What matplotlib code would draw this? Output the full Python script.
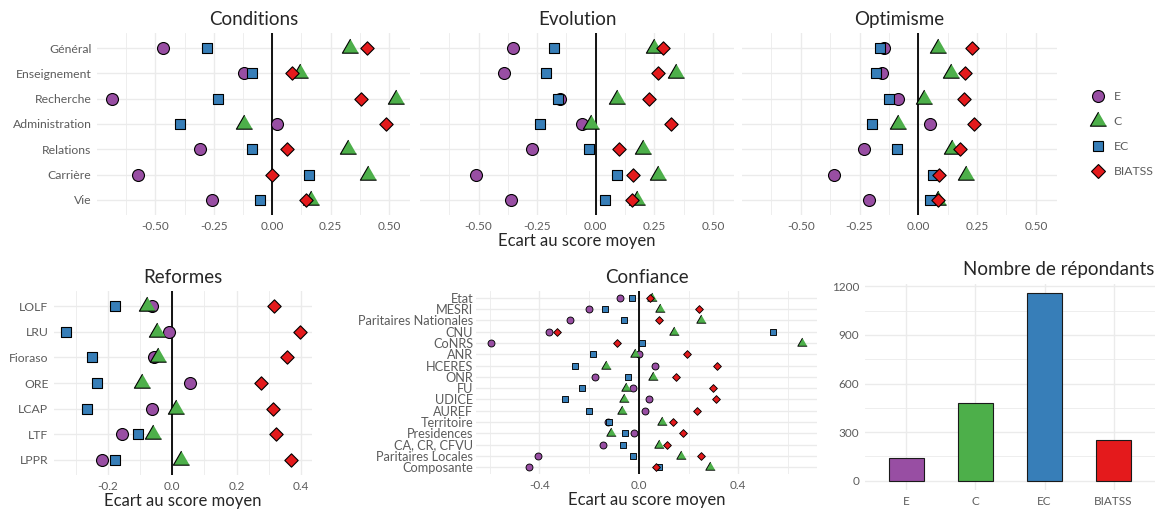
import matplotlib
matplotlib.use("Agg")
import matplotlib.pyplot as plt
import numpy as np
from matplotlib.lines import Line2D

plt.rcParams["font.family"] = ["Lato", "DejaVu Sans"]
plt.rcParams["axes.unicode_minus"] = False

W, H = 1156, 509

groups = ["E", "C", "EC", "BIATSS"]
colors = {"E": "#984EA3", "C": "#4DAF4A", "EC": "#377EB8", "BIATSS": "#E41A1C"}

# ---- data -----------------------------------------------------------------
themes = ["Général", "Enseignement", "Recherche", "Administration",
          "Relations", "Carrière", "Vie"]

conditions = {
    "E":      [-0.466, -0.121, -0.685, 0.020, -0.310, -0.574, -0.257],
    "C":      [0.334, 0.119, 0.531, -0.119, 0.325, 0.409, 0.166],
    "EC":     [-0.281, -0.087, -0.230, -0.393, -0.087, 0.159, -0.051],
    "BIATSS": [0.408, 0.085, 0.379, 0.486, 0.063, 0.000, 0.146],
}
evolution = {
    "E":      [-0.353, -0.391, -0.153, -0.059, -0.271, -0.513, -0.362],
    "C":      [0.249, 0.343, 0.089, -0.021, 0.203, 0.267, 0.178],
    "EC":     [-0.179, -0.213, -0.160, -0.240, -0.027, 0.090, 0.040],
    "BIATSS": [0.287, 0.266, 0.229, 0.323, 0.099, 0.161, 0.153],
}
optimisme = {
    "E":      [-0.144, -0.156, -0.088, 0.048, -0.231, -0.357, -0.208],
    "C":      [0.084, 0.140, 0.023, -0.085, 0.142, 0.204, 0.085],
    "EC":     [-0.163, -0.178, -0.123, -0.198, -0.091, 0.064, 0.048],
    "BIATSS": [0.227, 0.200, 0.195, 0.239, 0.178, 0.088, 0.085],
}

reform_names = ["LOLF", "LRU", "Fioraso", "ORE", "LCAP", "LTF", "LPPR"]
reformes = {
    "E":      [-0.062, -0.011, -0.057, 0.054, -0.062, -0.155, -0.218],
    "C":      [-0.079, -0.047, -0.044, -0.094, 0.013, -0.059, 0.028],
    "EC":     [-0.179, -0.331, -0.248, -0.234, -0.265, -0.106, -0.177],
    "BIATSS": [0.317, 0.398, 0.356, 0.277, 0.312, 0.321, 0.370],
}

institutions = ["Etat", "MESRI", "Paritaires Nationales", "CNU", "CoNRS", "ANR",
                "HCERES", "ONR", "FU", "UDICE", "AUREF", "Territoire",
                "Presidences", "CA, CR, CFVU", "Paritaires Locales", "Composante"]
confiance = {
    "E":      [-0.076, -0.199, -0.277, -0.361, -0.593, 0.001, 0.066, -0.177,
               -0.023, 0.042, 0.024, -0.123, -0.019, -0.143, -0.405, -0.443],
    "C":      [0.054, 0.086, 0.250, 0.143, 0.655, -0.015, -0.132, 0.059,
               -0.053, -0.061, -0.069, 0.093, -0.111, 0.082, 0.169, 0.288],
    "EC":     [-0.028, -0.135, -0.058, 0.538, 0.011, -0.186, -0.255, -0.042,
               -0.228, -0.297, -0.201, -0.118, -0.057, -0.062, -0.023, 0.080],
    "BIATSS": [0.045, 0.241, 0.080, -0.328, -0.088, 0.193, 0.314, 0.151,
               0.297, 0.309, 0.236, 0.138, 0.177, 0.115, 0.251, 0.069],
}

respondents = [140, 477, 1157, 249]

# ---- styling --------------------------------------------------------------
tri = [(0, 1), (-0.866, -0.5), (0.866, -0.5)]
markers = {"E": "o", "C": tri, "EC": "s", "BIATSS": "D"}
msize = {"E": 8.6, "C": 13.5, "EC": 7.7, "BIATSS": 6.8}
GRID = "#ebebeb"
TICK = "#5c5c5c"
TITLE = "#262626"


def px_axes(fig, x0, y0, x1, y1):
    return fig.add_axes([x0 / W, 1 - y1 / H, (x1 - x0) / W, (y1 - y0) / H])


def clean(ax):
    for s in ax.spines.values():
        s.set_visible(False)
    ax.tick_params(length=0, colors=TICK, labelsize=8.5, pad=4)
    ax.tick_params(which="minor", length=0)
    ax.set_axisbelow(True)


def dot_panel(ax, labels, data, xlim, major, minor, fmt, scale=1.0,
              show_labels=True, ysize=8.8):
    y = np.arange(len(labels))
    for g in groups:
        ax.scatter(data[g], y, marker=markers[g], s=(msize[g] * scale) ** 2,
                   facecolor=colors[g], edgecolor="black",
                   linewidth=0.8 * max(scale, 0.8), zorder=3)
    ax.axvline(0, color="black", lw=1.3, zorder=2)
    ax.set_xlim(xlim)
    ax.set_ylim(len(labels) - 0.4, -0.6)
    ax.set_xticks(major)
    ax.set_xticklabels([fmt.format(v) for v in major])
    ax.set_xticks(minor, minor=True)
    ax.set_yticks(y)
    ax.set_yticklabels(labels if show_labels else [])
    ax.grid(which="major", color=GRID, lw=1.0)
    ax.grid(which="minor", axis="x", color=GRID, lw=0.6)
    clean(ax)
    ax.tick_params(axis="y", labelsize=ysize)


fig = plt.figure(figsize=(W / 100, H / 100), dpi=100)

# top row: three panels sharing the same x scale
top_major = [-0.5, -0.25, 0.0, 0.25, 0.5]
top_minor = [-0.625, -0.375, -0.125, 0.125, 0.375]
top_xlim = (-0.75, 0.59)
top_panels = [("Conditions", conditions, (97, 410)),
              ("Evolution", evolution, (420, 734)),
              ("Optimisme", optimisme, (742, 1057))]
for i, (title, data, (x0, x1)) in enumerate(top_panels):
    ax = px_axes(fig, x0, 33, x1, 215)
    dot_panel(ax, themes, data, top_xlim, top_major, top_minor, "{:.2f}",
              show_labels=(i == 0))
    ax.set_title(title, fontsize=13.5, color=TITLE, pad=6)
    if i == 1:
        ax.set_xlabel("Ecart au score moyen", fontsize=12, color=TITLE, labelpad=1)

handles = [Line2D([], [], ls="none", marker=markers[g], markersize=msize[g],
                  markerfacecolor=colors[g], markeredgecolor="black",
                  markeredgewidth=0.8) for g in groups]
fig.legend(handles, groups, loc="center left",
           bbox_to_anchor=(1078 / W, 1 - 134 / H), frameon=False,
           fontsize=8.8, labelcolor=TICK, labelspacing=1.15, handletextpad=0.6,
           handlelength=1.4)

# bottom left: reforms
ax = px_axes(fig, 54, 291, 312, 475)
dot_panel(ax, reform_names, reformes, (-0.367, 0.434),
          [-0.2, 0.0, 0.2, 0.4], [-0.3, -0.1, 0.1, 0.3], "{:.1f}")
ax.set_title("Reformes", fontsize=13.5, color=TITLE, pad=6)
ax.set_xlabel("Ecart au score moyen", fontsize=12, color=TITLE, labelpad=1)

# bottom middle: trust in institutions
ax = px_axes(fig, 476, 291, 817, 474)
dot_panel(ax, institutions, confiance, (-0.655, 0.717),
          [-0.4, 0.0, 0.4], [-0.6, -0.2, 0.2, 0.6], "{:.1f}", scale=0.58,
          ysize=9.2)
ax.tick_params(axis="y", pad=2)
ax.set_title("Confiance", fontsize=13.5, color=TITLE, pad=6)
ax.set_xlabel("Ecart au score moyen", fontsize=12, color=TITLE, labelpad=1)

# bottom right: respondents per group
ax = px_axes(fig, 865, 284, 1155, 490)
pos = np.arange(1, len(groups) + 1)
ax.bar(pos, respondents, width=0.5, color=[colors[g] for g in groups],
       edgecolor="#1a1a1a", linewidth=0.8, zorder=3)
ax.set_xlim(0.4, 4.6)
ax.set_ylim(-58, 1215)
ax.set_xticks(pos)
ax.set_xticklabels(groups)
ax.set_yticks([0, 300, 600, 900, 1200])
ax.set_yticks([150, 450, 750, 1050], minor=True)
ax.grid(which="major", color=GRID, lw=1.0)
ax.grid(which="minor", axis="y", color=GRID, lw=0.6)
clean(ax)
fig.text(1059 / W, 1 - 270 / H, "Nombre de répondants", ha="center",
         va="center", fontsize=13.5, color=TITLE)

fig.savefig("out.png", dpi=100)
